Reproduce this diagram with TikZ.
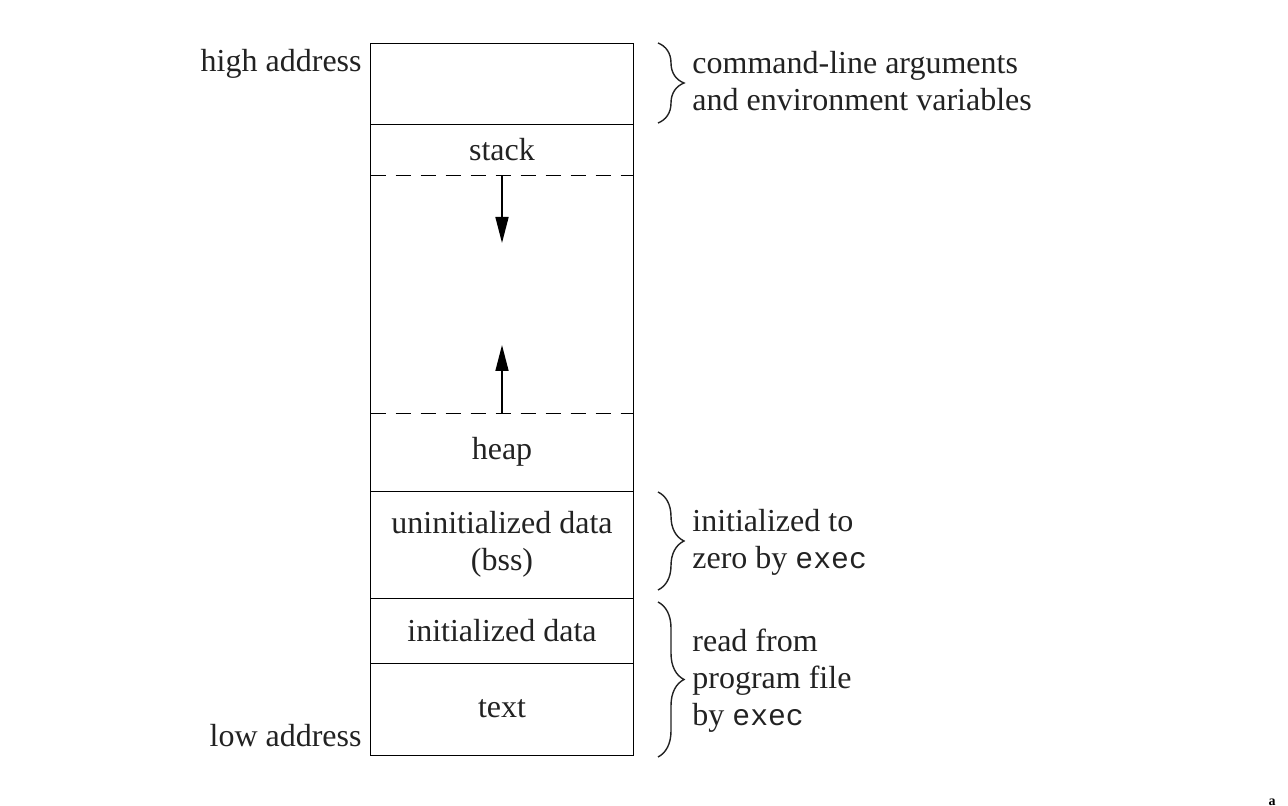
\documentclass[tikz,border=0pt]{standalone}
\usepackage{fontspec}
\setmainfont{Liberation Serif}
\setmonofont[Scale=0.93]{Liberation Mono}
\usetikzlibrary{arrows.meta,decorations.pathreplacing}
\definecolor{ink}{HTML}{222222}
\tikzset{
  seg/.style={draw=none, inner sep=0pt, minimum width=131pt, text=ink, align=center},
  outline/.style={line width=0.8pt},
  sep/.style={line width=0.8pt, dash pattern=on 7.5pt off 5pt},
  arr/.style={line width=0.8pt, -{Triangle[length=13pt,width=6.5pt]}},
  brc/.style={line width=0.7pt, draw=ink, decorate, decoration={brace, amplitude=13pt, aspect=0.5}},
  lbl/.style={text=ink, align=left, anchor=west, inner sep=0pt},
  addr/.style={text=ink, anchor=base east, inner sep=0pt},
}
\begin{document}
\begin{tikzpicture}[x=0.5pt,y=-0.5pt, font=\fontsize{16}{18.5}\selectfont]
\useasboundingbox (0,0) rectangle (1288,806);
% segments
\node[seg, minimum height=40pt]   (args)  at (502,84)    {};
\node[seg, minimum height=26pt]   (stack) at (502,150)   {stack};
\node[seg, minimum height=118.5pt](gap)   at (502,294.5) {};
\node[seg, minimum height=39pt]   (heap)  at (502,452)   {heap};
\node[seg, minimum height=53.5pt] (bss)   at (502,544.5) {uninitialized data\\(bss)};
\node[seg, minimum height=32.5pt] (init)  at (502,630.5) {initialized data};
\node[seg, minimum height=46pt]   (text)  at (502,709)   {text};
% outline and separators
\draw[outline] (args.north west) rectangle (text.south east);
\draw[outline] (args.south west) -- (args.south east);
\draw[outline] (heap.south west) -- (heap.south east);
\draw[outline] (bss.south west) -- (bss.south east);
\draw[outline] (init.south west) -- (init.south east);
\draw[sep] (gap.north west) -- (gap.north east);
\draw[sep] (gap.south west) -- (gap.south east);
% growth arrows
\coordinate (downtip) at (502,243);
\coordinate (uptip) at (502,345);
\draw[arr] (gap.north) -- (downtip);
\draw[arr] (gap.south) -- (uptip);
% address labels
\node[addr] (high) at (362,72) {high address};
\node[addr] (low) at (362,746) {low address};
% braces
\coordinate (b1a) at (658,43);
\coordinate (b1b) at (658,123);
\coordinate (b2a) at (658,492);
\coordinate (b2b) at (658,590);
\coordinate (b3a) at (658,602);
\coordinate (b3b) at (658,757);
\draw[brc] (b1a) -- (b1b);
\draw[brc] (b2a) -- (b2b);
\draw[brc] (b3a) -- (b3b);
\node[lbl] (l1) at (692,81) {command-line arguments\\and environment variables};
\node[lbl] (l2) at (692,542) {initialized to\\zero by \texttt{exec}};
\node[lbl] (l3) at (692,681) {read from\\program file\\by \texttt{exec}};
% stray glyph at the page edge
\node[anchor=base, inner sep=0pt, font=\bfseries\fontsize{7}{7}\selectfont] (stray) at (1272,805) {a};
\end{tikzpicture}
\end{document}
